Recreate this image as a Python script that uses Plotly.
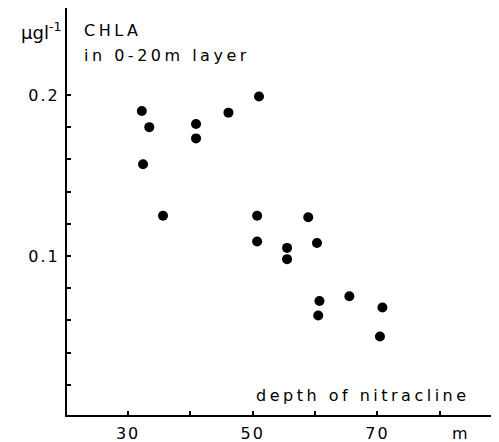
import plotly.graph_objects as go

depth = [32.2, 33.4, 32.4, 35.6, 40.9, 40.9, 46.1, 51.0, 50.7, 50.7,
         55.5, 55.5, 58.9, 60.3, 60.7, 60.5, 65.5, 70.8, 70.4]
chla = [0.190, 0.180, 0.157, 0.125, 0.182, 0.173, 0.189, 0.199, 0.125, 0.109,
        0.105, 0.098, 0.124, 0.108, 0.072, 0.063, 0.075, 0.068, 0.050]

x_tickvals = [30, 40, 50, 60, 70, 80]
x_ticktext = ["30", "", "50", "", "70", ""]
y_tickvals = [0.02, 0.04, 0.06, 0.08, 0.10, 0.12, 0.14, 0.16, 0.18, 0.20]
y_ticktext = ["", "", "", "", "0.1", "", "", "", "", "0.2"]

FONT = "DejaVu Sans"
LS = "letter-spacing:3.5px"
TLS = "letter-spacing:2px"

# page has an 8px body margin; figure sized to fit the 499x442 window
OFF = 8
W, H = 499 - OFF, 442 - OFF
L, R, T, B = 67 - OFF, 0, 0, H - (415 - OFF)

fig = go.Figure()
fig.add_trace(go.Scatter(x=depth, y=chla, mode="markers",
                         marker=dict(color="black", size=10),
                         showlegend=False, hoverinfo="skip"))

fig.update_layout(
    width=W, height=H,
    margin=dict(l=L, r=R, t=T, b=B, pad=0),
    paper_bgcolor="white", plot_bgcolor="white",
    font=dict(family=FONT, color="black", size=16),
    xaxis=dict(range=[20.2, 89.5], showgrid=False, zeroline=False,
               showline=True, linecolor="black", linewidth=2,
               ticks="inside", ticklen=4, tickwidth=1.5, tickcolor="black",
               tickvals=x_tickvals,
               ticktext=[f"<span style='{TLS}'>{t}</span>" if t else "" for t in x_ticktext],
               tickfont=dict(size=16, family=FONT), ticklabelstandoff=3),
    yaxis=dict(range=[0.0012, 0.254], showgrid=False, zeroline=False,
               showline=True, linecolor="black", linewidth=2,
               ticks="inside", ticklen=4, tickwidth=1.5, tickcolor="black",
               tickvals=y_tickvals,
               ticktext=[f"<span style='{TLS}'>{t}</span>" if t else "" for t in y_ticktext],
               tickfont=dict(size=16, family=FONT), ticklabelstandoff=2),
)

# annotation positions given in window pixels (top-left origin)
ann = [
    dict(text="µgl<sup>-1</sup>", x=63, y=31, xanchor="right", size=18),
    dict(text=f"<span style='{LS}'>CHLA</span>", x=82, y=31, xanchor="left", size=16),
    dict(text=f"<span style='{LS}'>in 0-20m layer</span>", x=82, y=55, xanchor="left", size=16),
    dict(text=f"<span style='{LS}'>depth of nitracline</span>", x=472, y=395, xanchor="right", size=16),
    dict(text="m", x=460, y=433, xanchor="center", size=16),
]
plot_w = W - L - R
plot_h = H - T - B
for a in ann:
    fx = a["x"] - OFF
    fy = a["y"] - OFF
    fig.add_annotation(text=a["text"], x=(fx - L) / plot_w, y=(H - B - fy) / plot_h,
                       xref="paper", yref="paper", xanchor=a["xanchor"],
                       yanchor="middle", showarrow=False,
                       font=dict(size=a["size"], family=FONT, color="black"))

fig.write_html("out.html")
